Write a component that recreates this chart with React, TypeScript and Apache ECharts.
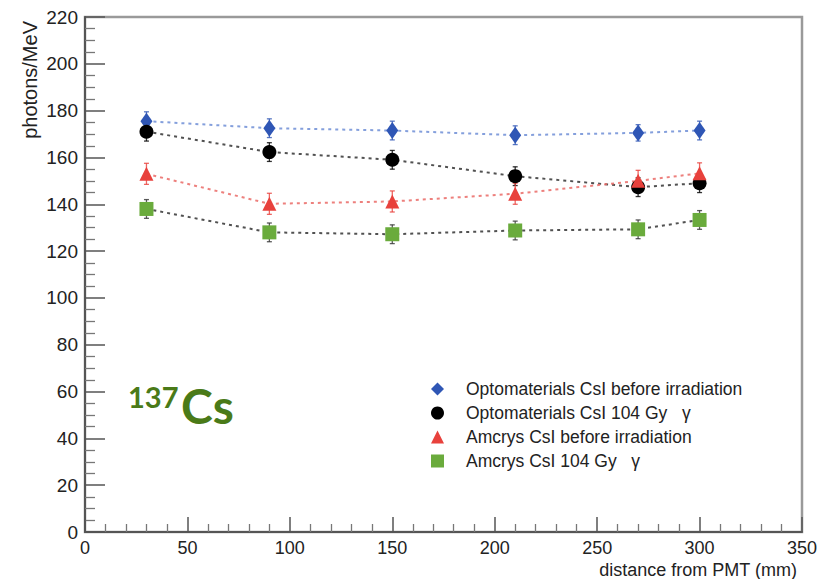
import React, { useEffect, useRef } from "react";
import * as echarts from "echarts";

// ---- data ----
const distances = [30, 90, 150, 210, 270, 300];
const optoBefore = [175.5, 172.5, 171.5, 169.5, 170.5, 171.5];
const optoIrradiated = [171, 162.3, 159, 152, 147.3, 149];
const amcrysBefore = [153, 140.2, 141.2, 144.5, 150, 153.2];
const amcrysIrradiated = [138, 128, 127.2, 128.8, 129.3, 133.3];
const optoBeforeErr = [4, 4, 4, 4, 3.5, 4];
const optoIrradiatedErr = [4, 4, 4, 4, 4, 4];
const amcrysBeforeErr = [4.5, 4.5, 4.5, 4.5, 4.5, 4.5];
const amcrysIrradiatedErr = [4, 4, 4, 4, 4, 4];
const seriesNames = [
  "Optomaterials CsI before irradiation",
  "Optomaterials CsI 104 Gy   γ",
  "Amcrys CsI before irradiation",
  "Amcrys CsI 104 Gy   γ",
];
const xAxisTitle = "distance from PMT (mm)";
const yAxisTitle = "photons/MeV";
const isotopeMass = "137";
const isotopeSymbol = "Cs";

const FONT = "'Liberation Sans', Arial, Helvetica, sans-serif";

function errorSeries(name: string, values: number[], errs: number[], color: string) {
  return {
    type: "custom",
    name,
    silent: true,
    z: 1,
    renderItem: (_params: any, api: any) => {
      const x = api.value(0);
      const lo = api.value(1);
      const hi = api.value(2);
      const top = api.coord([x, hi]);
      const bot = api.coord([x, lo]);
      const cap = 2.5;
      const style = { stroke: color, lineWidth: 1.3, opacity: 0.8 };
      return {
        type: "group",
        children: [
          { type: "line", shape: { x1: top[0], y1: top[1], x2: bot[0], y2: bot[1] }, style },
          { type: "line", shape: { x1: top[0] - cap, y1: top[1], x2: top[0] + cap, y2: top[1] }, style },
          { type: "line", shape: { x1: bot[0] - cap, y1: bot[1], x2: bot[0] + cap, y2: bot[1] }, style },
        ],
      };
    },
    data: distances.map((d, i) => [d, values[i] - errs[i], values[i] + errs[i]]),
  };
}

function lineSeries(
  name: string,
  values: number[],
  color: string,
  lineColor: string,
  symbol: string,
  symbolSize: number | number[]
) {
  return {
    type: "line",
    name,
    z: 3,
    data: distances.map((d, i) => [d, values[i]]),
    symbol,
    symbolSize,
    itemStyle: { color },
    lineStyle: { color: lineColor, width: 2, type: [3, 4], opacity: 0.85 },
  };
}

export default function App() {
  const ref = useRef<HTMLDivElement>(null);

  useEffect(() => {
    if (!ref.current) return;
    const chart = echarts.init(ref.current, undefined, { renderer: "svg" });
    const blue = "#2f56b5";
    const black = "#000000";
    const red = "#e8413c";
    const green = "#6aab3c";

    chart.setOption({
      animation: false,
      backgroundColor: "#ffffff",
      grid: {
        left: 85,
        right: 21,
        top: 17,
        bottom: 47,
        show: true,
        borderColor: "#9a9a9a",
        borderWidth: 2.5,
      },
      xAxis: {
        type: "value",
        min: 0,
        max: 350,
        interval: 50,
        axisLine: { show: true, onZero: false, lineStyle: { color: "#555", width: 2 } },
        axisTick: { show: true, inside: true, length: 15, lineStyle: { color: "#555", width: 1.5 } },
        minorTick: { show: true, splitNumber: 5, length: 8, lineStyle: { color: "#777", width: 1.3 } },
        splitLine: { show: false },
        axisLabel: { color: "#222", fontSize: 18, fontFamily: FONT, margin: 7 },
      },
      yAxis: {
        type: "value",
        min: 0,
        max: 220,
        interval: 20,
        axisLine: { show: true, onZero: false, lineStyle: { color: "#555", width: 2 } },
        axisTick: { show: true, inside: true, length: 20, lineStyle: { color: "#555", width: 1.5 } },
        minorTick: { show: true, splitNumber: 4, length: 10, lineStyle: { color: "#777", width: 1.3 } },
        splitLine: { show: false },
        axisLabel: { color: "#222", fontSize: 19, fontFamily: FONT, margin: 7 },
      },
      legend: {
        orient: "vertical",
        left: 426,
        top: 375,
        itemWidth: 13,
        itemHeight: 13,
        itemGap: 6,
        selectedMode: false,
        textStyle: {
          color: "#222",
          fontSize: 17.5,
          fontFamily: FONT,
          lineHeight: 18,
          padding: [0, 0, 0, 17],
        },
        data: [
          { name: seriesNames[0], icon: "diamond", itemStyle: { color: blue } },
          { name: seriesNames[1], icon: "circle", itemStyle: { color: black } },
          { name: seriesNames[2], icon: "triangle", itemStyle: { color: red } },
          { name: seriesNames[3], icon: "rect", itemStyle: { color: green } },
        ],
      },
      graphic: [
        {
          type: "text",
          x: 30,
          y: 21,
          rotation: Math.PI / 2,
          style: {
            text: yAxisTitle,
            align: "right",
            verticalAlign: "middle",
            fontSize: 20,
            fontFamily: FONT,
            fill: "#222",
          },
        },
        {
          type: "text",
          x: 797,
          y: 570,
          style: {
            text: xAxisTitle,
            align: "right",
            verticalAlign: "middle",
            fontSize: 18,
            fontFamily: FONT,
            fill: "#222",
          },
        },
        {
          type: "text",
          x: 128,
          y: 396,
          style: {
            text: isotopeMass,
            align: "left",
            verticalAlign: "middle",
            fontSize: 29,
            fontFamily: "Lato, 'Open Sans', sans-serif",
            fontWeight: "bold",
            fill: "#4a7a18",
          },
        },
        {
          type: "text",
          x: 181,
          y: 405,
          style: {
            text: isotopeSymbol,
            align: "left",
            verticalAlign: "middle",
            fontSize: 48,
            fontFamily: "Lato, 'Open Sans', sans-serif",
            fontWeight: "bold",
            fill: "#4a7a18",
          },
        },
      ],
      series: [
        errorSeries("err0", optoBefore, optoBeforeErr, blue),
        errorSeries("err1", optoIrradiated, optoIrradiatedErr, black),
        errorSeries("err2", amcrysBefore, amcrysBeforeErr, red),
        errorSeries("err3", amcrysIrradiated, amcrysIrradiatedErr, "#333"),
        lineSeries(seriesNames[0], optoBefore, blue, "#6f8ed6", "diamond", [12, 17]),
        lineSeries(seriesNames[1], optoIrradiated, black, "#333", "circle", 14),
        lineSeries(seriesNames[2], amcrysBefore, red, "#ea6a66", "triangle", 14),
        lineSeries(seriesNames[3], amcrysIrradiated, green, "#333", "rect", 14),
      ],
    });

    return () => chart.dispose();
  }, []);

  return (
    <div
      ref={ref}
      style={{ position: "fixed", left: 0, top: 0, width: 823, height: 579, background: "#fff" }}
    />
  );
}
